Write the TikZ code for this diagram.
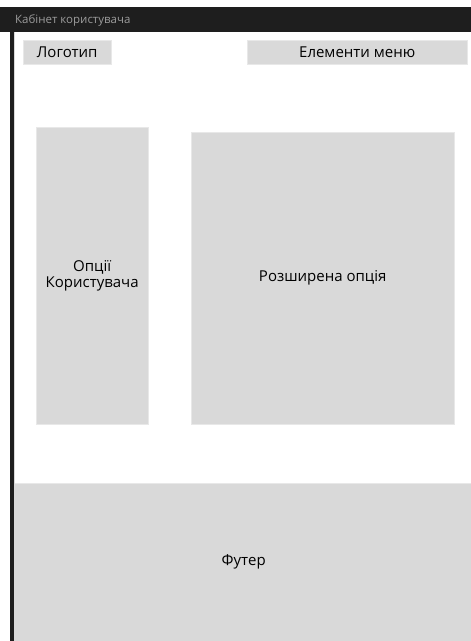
\documentclass[tikz,border=0pt]{standalone}
\usepackage{fontspec}
\setmainfont{Open Sans}
\usetikzlibrary{positioning}
\definecolor{blockgray}{HTML}{D9D9D9}
\definecolor{edgegray}{HTML}{E8E8E8}
\definecolor{barblack}{HTML}{1E1E1E}
\definecolor{titlegray}{HTML}{9C9C9C}
\tikzset{
  block/.style={draw=edgegray, fill=blockgray, rectangle, inner sep=0pt, anchor=north west, align=center, font=\fontsize{15}{16}\selectfont},
}

\begin{document}
\begin{tikzpicture}[x=1pt, y=-1pt]
    \fill[white] (0,0) rectangle (471,641);
    \useasboundingbox (0,0) rectangle (471,641);

    % window frame
    \fill[barblack] (0,7) rectangle (471,32);
    \fill[barblack] (10,32) rectangle (14,641);
    \draw[black!15] (14.5,32) -- (14.5,641);
    \node[anchor=west, inner sep=0pt, text=titlegray, font=\fontsize{11.5}{12}\selectfont] (title) at (15,20) {Кабінет користувача};

    % header
    \node[block, minimum width=88pt, minimum height=24pt] (logo) at (23,40) {Логотип};
    \node[block, minimum width=220pt, minimum height=24pt] (menu) at (247,40) {Елементи меню};

    % content
    \node[block, minimum width=112pt, minimum height=297pt] (options) at (36,127) {Опції\\Користувача};
    \node[block, minimum width=263pt, minimum height=292pt] (extended) at (191,132) {Розширена опція};

    % footer
    \node[block, draw=none, minimum width=457pt, minimum height=158pt] (footer) at (15,483) {Футер};
    \draw[edgegray] (footer.north west) -- (footer.north east);
\end{tikzpicture}
\end{document}
